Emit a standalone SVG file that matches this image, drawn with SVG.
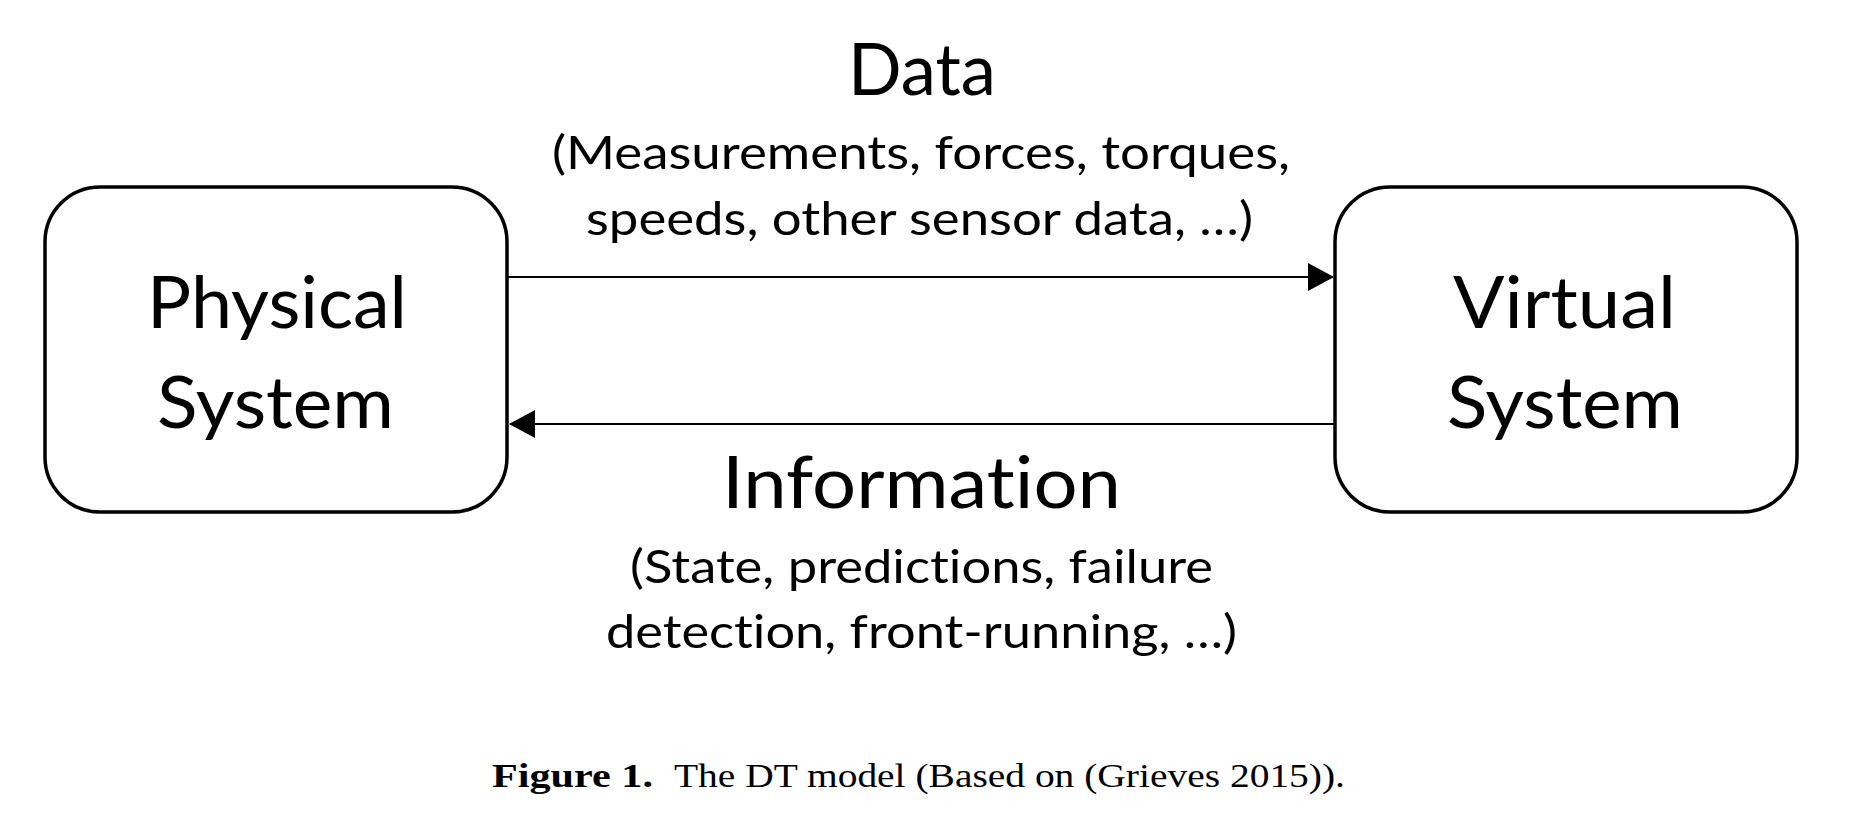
<svg xmlns="http://www.w3.org/2000/svg" width="1850" height="813" viewBox="0 0 1850 813">
<style>
.box{fill:#fff;stroke:#000;stroke-width:3.5}
.lbl{font-family:Lato,"Open Sans","Liberation Sans",sans-serif;fill:#000;font-variant-ligatures:none}
.big{font-size:72px}
.small{font-size:47px}
.conn{stroke:#000;stroke-width:2;fill:none}
.cap{font-family:"Liberation Serif","DejaVu Serif",serif;font-size:33px;fill:#000}
</style>
<defs>
<marker id="ah" markerUnits="userSpaceOnUse" markerWidth="26" markerHeight="28" refX="25" refY="14" orient="auto">
<path d="M0,0 L26,14 L0,28 z" fill="#000"/>
</marker>
</defs>
<rect width="1850" height="813" fill="#fff"/>
<g id="physical">
<rect class="box" x="45" y="187" width="462" height="325" rx="55" ry="55"/>
<text class="lbl big" x="147" y="328" textLength="260" lengthAdjust="spacingAndGlyphs">Physical</text>
<text class="lbl big" x="157" y="428" textLength="237" lengthAdjust="spacingAndGlyphs">System</text>
</g>
<g id="virtual">
<rect class="box" x="1335" y="187" width="462" height="325" rx="55" ry="55"/>
<text class="lbl big" x="1453" y="328" textLength="223" lengthAdjust="spacingAndGlyphs">Virtual</text>
<text class="lbl big" x="1447" y="428" textLength="236" lengthAdjust="spacingAndGlyphs">System</text>
</g>
<g id="connectors">
<line class="conn" x1="507" y1="277" x2="1333" y2="277" marker-end="url(#ah)"/>
<line class="conn" x1="1335" y1="424" x2="510" y2="424" marker-end="url(#ah)"/>
</g>
<g id="data-label">
<text class="lbl big" x="848" y="95" textLength="148" lengthAdjust="spacingAndGlyphs">Data</text>
<text class="lbl small" x="552" y="169" textLength="738" lengthAdjust="spacingAndGlyphs">(Measurements, forces, torques,</text>
<text class="lbl small" x="586" y="235" textLength="667" lengthAdjust="spacingAndGlyphs">speeds, other sensor data, …)</text>
</g>
<g id="information-label">
<text class="lbl big" x="722" y="508" textLength="399" lengthAdjust="spacingAndGlyphs">Information</text>
<text class="lbl small" x="630" y="583" textLength="583" lengthAdjust="spacingAndGlyphs">(State, predictions, failure</text>
<text class="lbl small" x="606" y="648" textLength="631" lengthAdjust="spacingAndGlyphs">detection, front-running, …)</text>
</g>
<g id="caption">
<text class="cap" x="492" y="787" font-weight="bold" textLength="161" lengthAdjust="spacingAndGlyphs">Figure 1.</text>
<text class="cap" x="674" y="787" textLength="671" lengthAdjust="spacingAndGlyphs">The DT model (Based on (Grieves 2015)).</text>
</g>
</svg>
